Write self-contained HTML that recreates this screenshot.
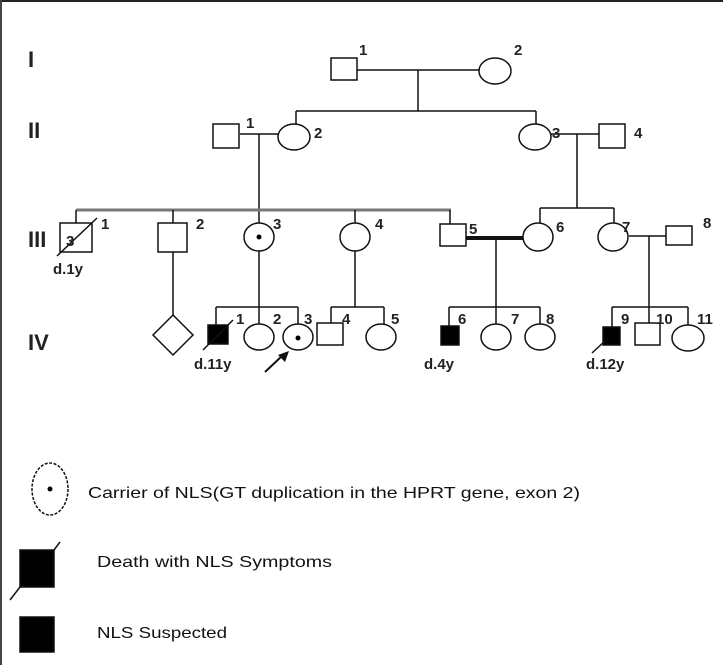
<!DOCTYPE html>
<html><head><style>body{margin:0;background:#fff}svg{display:block}</style></head><body>
<svg width="723" height="665" xmlns="http://www.w3.org/2000/svg" font-family="Liberation Sans, sans-serif">
<rect width="723" height="665" fill="#fff"/>
<line x1="0" y1="1" x2="723" y2="1" stroke="#222" stroke-width="2"/>
<line x1="1" y1="0" x2="1" y2="665" stroke="#444" stroke-width="2"/>
<g font-weight="bold" font-size="22" fill="#222">
<text x="28" y="67">I</text><text x="28" y="138">II</text><text x="28" y="247">III</text><text x="28" y="350">IV</text>
</g>
<g stroke="#111" stroke-width="1.5" fill="#fff">
<line x1="357" y1="70" x2="480" y2="70"/>
<line x1="418" y1="70" x2="418" y2="111"/>
<line x1="296" y1="111" x2="536" y2="111"/>
<line x1="296" y1="111" x2="296" y2="124"/>
<line x1="536" y1="111" x2="536" y2="124"/>
<rect x="331" y="58" width="26" height="22"/>
<ellipse cx="495" cy="71" rx="16" ry="13"/>
<line x1="240" y1="134" x2="278" y2="134"/>
<line x1="259" y1="134" x2="259" y2="224"/>
<line x1="551" y1="134" x2="599" y2="134"/>
<line x1="577" y1="134" x2="577" y2="208"/>
<rect x="213" y="124" width="26" height="24"/>
<ellipse cx="294" cy="137" rx="16" ry="13"/>
<ellipse cx="535" cy="137" rx="16" ry="13"/>
<rect x="599" y="124" width="26" height="24"/>
<line x1="76" y1="210" x2="451" y2="210" stroke="#777" stroke-width="3"/>
<line x1="76" y1="210" x2="76" y2="223"/>
<line x1="173" y1="210" x2="173" y2="223"/>
<line x1="355" y1="210" x2="355" y2="224"/>
<line x1="450" y1="210" x2="450" y2="224"/>
<line x1="540" y1="208" x2="614" y2="208"/>
<line x1="540" y1="208" x2="540" y2="224"/>
<line x1="614" y1="208" x2="614" y2="224"/>
<rect x="60" y="223" width="32" height="29"/>
<line x1="57" y1="256" x2="97" y2="218"/>
<rect x="158" y="223" width="29" height="29"/>
<line x1="173" y1="252" x2="173" y2="315"/>
<polygon points="173,315 193,335 173,355 153,335"/>
<ellipse cx="259" cy="237" rx="15" ry="14"/>
<line x1="259" y1="251" x2="259" y2="324"/>
<ellipse cx="355" cy="237" rx="15" ry="14"/>
<line x1="355" y1="251" x2="355" y2="307"/>
<line x1="466" y1="238" x2="524" y2="238" stroke-width="4"/>
<line x1="496" y1="238" x2="496" y2="324"/>
<rect x="440" y="224" width="26" height="22"/>
<ellipse cx="538" cy="237" rx="15" ry="14"/>
<line x1="629" y1="236" x2="666" y2="236"/>
<line x1="649" y1="236" x2="649" y2="323"/>
<ellipse cx="613" cy="237" rx="15" ry="14"/>
<rect x="666" y="226" width="26" height="19"/>
<line x1="216" y1="307" x2="298" y2="307"/>
<line x1="216" y1="307" x2="216" y2="325"/>
<line x1="298" y1="307" x2="298" y2="324"/>
<line x1="331" y1="307" x2="384" y2="307"/>
<line x1="331" y1="307" x2="331" y2="323"/>
<line x1="384" y1="307" x2="384" y2="324"/>
<line x1="449" y1="307" x2="540" y2="307"/>
<line x1="449" y1="307" x2="449" y2="326"/>
<line x1="540" y1="307" x2="540" y2="324"/>
<line x1="612" y1="307" x2="688" y2="307"/>
<line x1="612" y1="307" x2="612" y2="327"/>
<line x1="688" y1="307" x2="688" y2="325"/>
<rect x="208" y="325" width="20" height="19" fill="#000"/>
<line x1="203" y1="350" x2="233" y2="320"/>
<ellipse cx="259" cy="337" rx="15" ry="13"/>
<ellipse cx="298" cy="337" rx="15" ry="13"/>
<rect x="317" y="323" width="26" height="22"/>
<ellipse cx="381" cy="337" rx="15" ry="13"/>
<rect x="441" y="326" width="18" height="19" fill="#000"/>
<ellipse cx="496" cy="337" rx="15" ry="13"/>
<ellipse cx="540" cy="337" rx="15" ry="13"/>
<rect x="603" y="327" width="17" height="18" fill="#000"/>
<line x1="592" y1="353" x2="606" y2="340"/>
<rect x="635" y="323" width="25" height="22"/>
<ellipse cx="688" cy="338" rx="16" ry="13"/>
<line x1="265" y1="372" x2="282" y2="356" stroke-width="2"/>
<ellipse cx="50" cy="489" rx="18" ry="26" stroke-dasharray="3,1.5"/>
<rect x="20" y="550" width="34" height="37" fill="#000"/>
<line x1="10" y1="600" x2="20" y2="587"/>
<line x1="54" y1="550" x2="60" y2="542"/>
<rect x="20" y="617" width="34" height="35" fill="#000"/>
</g>
<polygon points="289,351 278,355 285,362" fill="#111"/>
<g fill="#000">
<circle cx="259" cy="237" r="2.5"/><circle cx="298" cy="338" r="2.5"/><circle cx="50" cy="489" r="2.5"/>
</g>
<g font-weight="bold" font-size="15" fill="#222">
<text x="359" y="55">1</text><text x="514" y="55">2</text>
<text x="246" y="128">1</text><text x="314" y="138">2</text><text x="552" y="138">3</text><text x="634" y="138">4</text>
<text x="101" y="229">1</text><text x="196" y="229">2</text><text x="273" y="229">3</text><text x="375" y="229">4</text><text x="469" y="234">5</text><text x="556" y="232">6</text><text x="622" y="232">7</text><text x="703" y="228">8</text>
<text x="66" y="246" font-size="15">3</text>
<text x="236" y="324">1</text><text x="273" y="324">2</text><text x="304" y="324">3</text><text x="342" y="324">4</text><text x="391" y="324">5</text>
<text x="458" y="324">6</text><text x="511" y="324">7</text><text x="546" y="324">8</text>
<text x="621" y="324">9</text><text x="656" y="324">10</text><text x="697" y="324">11</text>
<text x="53" y="274">d.1y</text><text x="194" y="369">d.11y</text><text x="424" y="369">d.4y</text><text x="586" y="369">d.12y</text>
</g>
<g font-size="16" fill="#111">
<text x="88" y="498" textLength="492" lengthAdjust="spacingAndGlyphs">Carrier of NLS(GT duplication in the HPRT gene, exon 2)</text>
<text x="97" y="567" textLength="235" lengthAdjust="spacingAndGlyphs">Death with NLS Symptoms</text>
<text x="97" y="638" textLength="130" lengthAdjust="spacingAndGlyphs">NLS Suspected</text>
</g>
</svg>
</body></html>
